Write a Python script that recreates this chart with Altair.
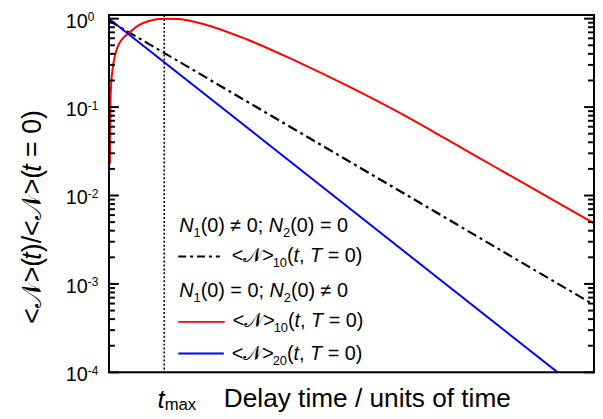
import altair as alt
import pandas as pd

# ---------------- data ----------------
t_red = [0.02, 0.03, 0.04, 0.06, 0.10, 0.16, 0.20, 0.30, 0.40, 0.61, 0.82, 1.14,
         1.43, 1.84, 2.86, 3.88, 4.90, 5.92, 6.94, 7.96, 8.98, 10.0]
v_red = [0.023, 0.11, 0.16, 0.23, 0.33, 0.45, 0.51, 0.61, 0.68, 0.84, 0.94, 1.0,
         0.99, 0.90, 0.577, 0.327, 0.176, 0.0904, 0.0439, 0.0210, 0.0101, 0.00483]
t_black = [0.0, 10.0]
v_black = [0.95, 0.00058]
t_blue = [0.0, 9.25]
v_blue = [1.0, 0.0001]
t_max = 1.14

decades = [1.0, 0.1, 0.01, 0.001, 0.0001]
decade_exp = ["0", "-1", "-2", "-3", "-4"]
minor = [k * 10.0 ** d for d in range(-4, 0) for k in range(2, 10)]

x_title = "Delay time / units of time"
leg1 = [("N", "i"), ("1", "sub"), ("(0) ≠ 0;", "n"), (" ", "sp"), ("N", "i"), ("2", "sub"), ("(0) = 0", "n")]
leg2 = [("<𝒩>", "n"), ("10", "sub"), ("(", "n"), ("t", "i"), (",", "n"), (" ", "sp"), ("T", "i"), (" ", "sp"), ("= 0)", "n")]
leg3 = [("N", "i"), ("1", "sub"), ("(0) = 0;", "n"), (" ", "sp"), ("N", "i"), ("2", "sub"), ("(0) ≠ 0", "n")]
leg4 = [("<𝒩>", "n"), ("10", "sub"), ("(", "n"), ("t", "i"), (",", "n"), (" ", "sp"), ("T", "i"), (" ", "sp"), ("= 0)", "n")]
leg5 = [("<𝒩>", "n"), ("20", "sub"), ("(", "n"), ("t", "i"), (",", "n"), (" ", "sp"), ("T", "i"), (" ", "sp"), ("= 0)", "n")]
y_title = [("<𝒩>(", "n"), ("t", "i"), (")/<𝒩>(", "n"), ("t", "i"), (" ", "sp"), ("= 0)", "n")]
tmax_parts = [("t", "i"), ("max", "sub")]

# ---------------- layout ----------------
W, H = 490, 361
FONT = "Liberation Sans"
AW = {' ': 278, '(': 333, ')': 333, ',': 278, ';': 278, '<': 584, '=': 584, '>': 584,
      '≠': 549, '/': 278, 'N': 722, 'T': 611, 't': 278, 'm': 833, 'a': 556, 'x': 500,
      '𝒩': 900, '-': 333}


def text_width(s, size):
    return sum(AW.get(c, 556) for c in s) * size / 1000.0


def place(parts, x0, y0, size, vertical=False, sub_scale=0.65, sub_drop=0.25):
    rows, cur = [], 0.0
    for txt, kind in parts:
        fs = size * sub_scale if kind == "sub" else size
        dy = size * sub_drop if kind == "sub" else 0.0
        if kind != "sp":
            if vertical:
                rows.append(dict(px=x0, py=y0 - cur, text=txt, fs=fs, style=kind))
            else:
                rows.append(dict(px=x0 + cur, py=y0 + dy, text=txt, fs=fs, style=kind))
        cur += text_width(txt, fs)
    return rows


LS = 20
h_rows = []
h_rows += place(leg1, 71, 219, LS)
h_rows += place(leg2, 124, 250, LS)
h_rows += place(leg3, 71, 284.5, LS)
h_rows += place(leg4, 125, 315.5, LS)
h_rows += place(leg5, 124, 349, LS)
h_rows += place(tmax_parts, 49, 397, 26, sub_scale=0.65, sub_drop=0.08)
hdf = pd.DataFrame(h_rows)
v_rows = place(y_title, -77, 312, 27, vertical=True)
vdf = pd.DataFrame(v_rows)

xs = alt.Scale(domain=[0, 10], nice=False, zero=False)
ys = alt.Scale(type="log", domain=[1e-4, 1.1], nice=False)

red = pd.DataFrame({"t": t_red, "v": v_red})
black = pd.DataFrame({"t": t_black, "v": v_black})
blue = pd.DataFrame({"t": t_blue, "v": v_blue})

X = alt.X("t:Q", scale=xs, axis=None)
Y = alt.Y("v:Q", scale=ys, axis=None)

l_black = alt.Chart(black).mark_line(color="black", strokeWidth=2.2, strokeDash=[10, 4, 3, 4], clip=True).encode(x=X, y=Y)
l_blue = alt.Chart(blue).mark_line(color="#0000ff", strokeWidth=2, clip=True).encode(x=X, y=Y)
l_red = alt.Chart(red).mark_line(color="#ff0000", strokeWidth=2, interpolate="monotone", clip=True).encode(x=X, y=Y)

vline = alt.Chart(pd.DataFrame({"t": [t_max]})).mark_rule(color="black", strokeWidth=1.6, strokeDash=[2, 2]).encode(x=X)

maj = pd.DataFrame({"v": decades, "e": decade_exp})
mino = pd.DataFrame({"v": minor})
tick_l = alt.Chart(maj).mark_rule(color="black", strokeWidth=2).encode(y=Y, x=alt.value(0), x2=alt.value(10))
tick_r = alt.Chart(maj).mark_rule(color="black", strokeWidth=2).encode(y=Y, x=alt.value(W), x2=alt.value(W - 10))
mtick_l = alt.Chart(mino).mark_rule(color="black", strokeWidth=2).encode(y=Y, x=alt.value(0), x2=alt.value(6))
mtick_r = alt.Chart(mino).mark_rule(color="black", strokeWidth=2).encode(y=Y, x=alt.value(W), x2=alt.value(W - 6))

lab10 = alt.Chart(maj).mark_text(font=FONT, fontSize=20, align="right", baseline="middle", dy=3).encode(
    y=Y, x=alt.value(-21.5), text=alt.value("10"))
labexp = alt.Chart(maj).mark_text(font=FONT, fontSize=12, align="left", baseline="middle", dy=-1.5).encode(
    y=Y, x=alt.value(-21.5), text="e:N")

one = pd.DataFrame({"a": [0]})
frame = alt.Chart(one).mark_rect(fillOpacity=0, stroke="black", strokeWidth=2).encode(
    x=alt.value(0), x2=alt.value(W), y=alt.value(0), y2=alt.value(H))

# legend samples
s_black = alt.Chart(one).mark_rule(color="black", strokeWidth=2.2, strokeDash=[8, 4, 3, 4]).encode(
    x=alt.value(70), x2=alt.value(112), y=alt.value(244))
s_red = alt.Chart(one).mark_rule(color="#ff0000", strokeWidth=2).encode(
    x=alt.value(70), x2=alt.value(117), y=alt.value(310))
s_blue = alt.Chart(one).mark_rule(color="#0000ff", strokeWidth=2).encode(
    x=alt.value(70), x2=alt.value(116), y=alt.value(342))

PX = alt.X("px:Q", scale=None, axis=None)
PY = alt.Y("py:Q", scale=None, axis=None)
SZ = alt.Size("fs:Q", scale=None, legend=None)

t_norm = alt.Chart(hdf).transform_filter("datum.style != 'i'").mark_text(
    font=FONT, align="left", baseline="alphabetic", color="black").encode(x=PX, y=PY, text="text:N", size=SZ)
t_ital = alt.Chart(hdf).transform_filter("datum.style == 'i'").mark_text(
    font=FONT, fontStyle="italic", align="left", baseline="alphabetic", color="black").encode(x=PX, y=PY, text="text:N", size=SZ)
v_norm = alt.Chart(vdf).transform_filter("datum.style != 'i'").mark_text(
    font=FONT, align="left", baseline="middle", angle=270, color="black").encode(x=PX, y=PY, text="text:N", size=SZ)
v_ital = alt.Chart(vdf).transform_filter("datum.style == 'i'").mark_text(
    font=FONT, fontStyle="italic", align="left", baseline="middle", angle=270, color="black").encode(x=PX, y=PY, text="text:N", size=SZ)

xt = alt.Chart(pd.DataFrame({"s": [x_title]})).mark_text(
    font=FONT, fontSize=26.5, align="center", baseline="alphabetic").encode(
    x=alt.value(261), y=alt.value(396), text="s:N")

chart = alt.layer(
    vline, l_black, l_red, l_blue,
    tick_l, tick_r, mtick_l, mtick_r, frame, lab10, labexp,
    s_black, s_red, s_blue, t_norm, t_ital, v_norm, v_ital, xt,
).properties(
    width=W, height=H,
    autosize=alt.AutoSizeParams(type="none"),
    padding={"left": 102, "top": 5, "right": 1, "bottom": 40},
)

chart.save("out.html", embed_options={"renderer": "svg", "actions": False})
